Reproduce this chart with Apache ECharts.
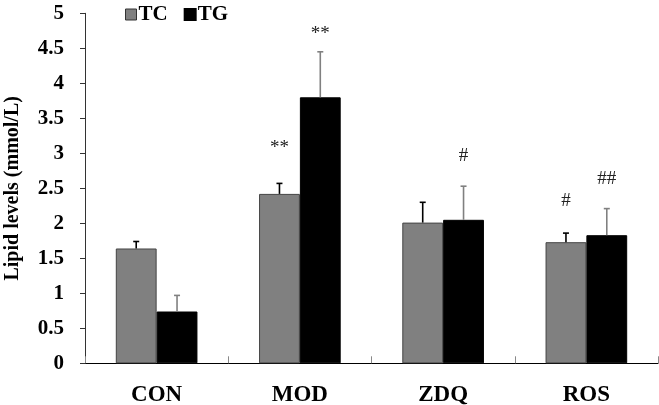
<!DOCTYPE html>
<html>
<head>
<meta charset="utf-8">
<script src="https://cdn.jsdelivr.net/npm/echarts@6/dist/echarts.min.js"></script>
<style>html,body{margin:0;padding:0;background:#fff;}#chart{width:659px;height:405px;}</style>
</head>
<body>
<div id="chart"></div>
<script>
var categories = ['CON', 'MOD', 'ZDQ', 'ROS'];
var tcValues = [1.64, 2.42, 2.01, 1.73];
var tcErrors = [0.10, 0.15, 0.29, 0.13];
var tgValues = [0.74, 3.80, 2.05, 1.83];
var tgErrors = [0.23, 0.65, 0.48, 0.38];
var tcMarks = ['', '**', '', '#'];
var tcMarkLevels = [null, 3.07, null, 2.32];
var tgMarks = ['', '**', '#', '##'];
var tgMarkLevels = [null, 4.70, 2.96, 2.63];
var yTicks = ['0', '0.5', '1', '1.5', '2', '2.5', '3', '3.5', '4', '4.5', '5'];

var SERIF = '"Liberation Serif", "Times New Roman", serif';
var barFrac = 0.285; // bar width as fraction of band

function errData(vals, errs) {
  return vals.map(function (v, i) { return [i, v, v + errs[i]]; });
}
function makeErr(name, offsetSign, color, vals, errs, marks, levels) {
  return {
    type: 'custom',
    name: name + '_err',
    z: 5,
    data: errData(vals, errs),
    renderItem: function (params, api) {
      var idx = api.value(0);
      var band = api.size([1, 0])[0];
      var off = offsetSign * band * barFrac / 2;
      var p0 = api.coord([idx, api.value(1)]);
      var p1 = api.coord([idx, api.value(2)]);
      var x = p0[0] + off;
      var children = [
        { type: 'line', shape: { x1: x, y1: p0[1], x2: x, y2: p1[1] }, style: { stroke: color, lineWidth: 1.6 } },
        { type: 'line', shape: { x1: x - 3, y1: p1[1], x2: x + 3, y2: p1[1] }, style: { stroke: color, lineWidth: 1.6 } }
      ];
      var mk = marks[idx];
      if (mk) {
        var pm = api.coord([idx, levels[idx]]);
        children.push({ type: 'text', style: { text: mk, x: x, y: pm[1], align: 'center', verticalAlign: 'middle', font: '19px ' + SERIF, fill: '#222' } });
      }
      return { type: 'group', children: children };
    }
  };
}

var chart = echarts.init(document.getElementById('chart'), null, { renderer: 'canvas' });
chart.setOption({
  animation: false,
  backgroundColor: '#fff',
  grid: { left: 85, right: 1, top: 13.3, bottom: 41.7, containLabel: false, outerBoundsMode: 'none' },
  legend: {
    left: 125, top: 4, icon: 'rect', itemWidth: 11, itemHeight: 11, itemGap: 16, padding: 0,
    data: [
      { name: 'TC', itemStyle: { color: '#808080', borderColor: '#333', borderWidth: 1 } },
      { name: 'TG', itemStyle: { color: '#000' } }
    ],
    textStyle: { fontFamily: SERIF, fontWeight: 'bold', fontSize: 21, color: '#000', padding: [0, 0, 0, -3] }
  },
  xAxis: {
    type: 'category', data: categories,
    axisLine: { lineStyle: { color: '#000', width: 1.2 } },
    axisTick: { show: true, inside: true, length: 7, lineStyle: { color: '#888' } },
    axisLabel: { margin: 20, fontFamily: SERIF, fontWeight: 'bold', fontSize: 23, color: '#000' }
  },
  yAxis: {
    type: 'value', min: 0, max: 5, interval: 0.5,
    name: 'Lipid levels (mmol/L)', nameLocation: 'middle', nameGap: 62,
    nameTextStyle: { fontFamily: SERIF, fontWeight: 'bold', fontSize: 20, color: '#000' },
    axisLine: { show: true, lineStyle: { color: '#333', width: 1 } },
    axisTick: { show: true, length: 5, lineStyle: { color: '#333' } },
    splitLine: { show: false },
    axisLabel: { margin: 21, fontFamily: SERIF, fontWeight: 'bold', fontSize: 21, color: '#000',
      formatter: function (v) { var i = Math.round(v / 0.5); return yTicks[i]; } }
  },
  series: [
    { type: 'bar', name: 'TC', data: tcValues, barGap: '0%', barCategoryGap: '43%',
      itemStyle: { color: '#808080', borderColor: '#444', borderWidth: 1 } },
    { type: 'bar', name: 'TG', data: tgValues,
      itemStyle: { color: '#000', borderColor: '#000', borderWidth: 1 } },
    makeErr('TC', -1, '#000', tcValues, tcErrors, tcMarks, tcMarkLevels),
    makeErr('TG', 1, '#808080', tgValues, tgErrors, tgMarks, tgMarkLevels)
  ]
});
</script>
</body>
</html>
